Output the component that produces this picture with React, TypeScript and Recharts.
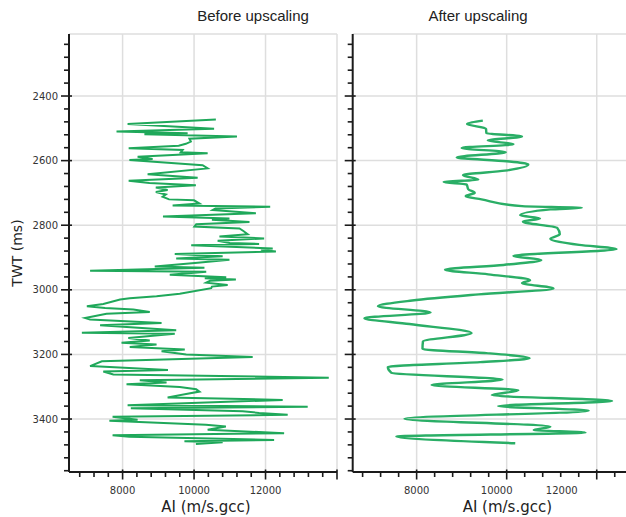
import React from 'react';
import { LineChart, Line, XAxis, YAxis, CartesianGrid } from 'recharts';

// ---------- data ----------
const beforeTime = [
  2473, 2487, 2501, 2510, 2515, 2518, 2525, 2532, 2541, 2548, 2554, 2562, 2567, 2574, 2577, 2588, 2595, 2598,
  2614, 2624, 2642, 2653, 2662, 2669, 2676, 2683, 2691, 2697, 2705, 2712, 2720, 2723, 2733, 2739, 2743, 2748,
  2753, 2763, 2773, 2779, 2783, 2790, 2797, 2804, 2810, 2818, 2828, 2835, 2841, 2848, 2855, 2858, 2862, 2872,
  2876, 2881, 2889, 2896, 2903, 2907, 2916, 2928, 2932, 2941, 2944, 2953, 2961, 2964, 2968, 2972, 2978, 2985,
  2990, 2995, 3012, 3020, 3026, 3030, 3044, 3051, 3056, 3061, 3069, 3074, 3087, 3092, 3103, 3110, 3125, 3133,
  3136, 3149, 3157, 3164, 3169, 3177, 3185, 3190, 3200, 3208, 3221, 3236, 3248, 3253, 3262, 3272, 3280, 3287,
  3292, 3301, 3308, 3315, 3333, 3341, 3357, 3362, 3367, 3376, 3381, 3387, 3393, 3402, 3405, 3418, 3423, 3433,
  3444, 3450, 3455, 3465, 3469, 3472, 3477,
];
const beforeAI = [
  10610, 8140, 10560, 7830, 9820, 8610, 11200, 9870, 9910, 9770, 9570, 8170, 9680, 9630, 10380, 8420, 8840, 8190,
  10240, 10380, 8700, 10100, 8170, 8750, 10050, 8930, 9260, 8930, 9210, 9120, 9300, 10000, 10150, 9400, 12130, 10600,
  10520, 11730, 9130, 10990, 10500, 11550, 10060, 10010, 11270, 11380, 11500, 10710, 11960, 10660, 11000, 11820, 9920, 12200,
  11870, 12290, 9460, 10800, 9500, 10990, 10100, 8900, 10290, 7090, 10340, 9320, 10900, 10300, 11170, 10450, 10340, 10940,
  10500, 10480, 9600, 8950, 8200, 7930, 7460, 7000, 7510, 8300, 8760, 7550, 6950, 7090, 9090, 7370, 9500, 6860,
  9460, 8160, 8760, 7970, 8950, 8200, 9740, 9090, 9780, 11640, 7420, 7090, 9270, 7460, 7740, 13770, 8480, 9230,
  8110, 9600, 10060, 10150, 9260, 12480, 8140, 13180, 8230, 11360, 11820, 12620, 7720, 8420, 7630, 10330, 10890, 10380,
  12520, 7720, 8190, 12240, 9730, 10800, 10050,
];

const afterTime = [
  2476, 2487, 2501, 2515, 2525, 2538, 2549, 2561, 2574, 2590, 2602, 2612, 2631, 2645, 2659, 2666, 2674, 2689,
  2700, 2710, 2720, 2741, 2746, 2751, 2769, 2779, 2789, 2808, 2828, 2842, 2861, 2874, 2895, 2908, 2923, 2938,
  2952, 2970, 2979, 2996, 3014, 3033, 3051, 3070, 3088, 3106, 3134, 3160, 3183, 3196, 3212, 3224, 3239, 3257,
  3278, 3295, 3311, 3326, 3344, 3360, 3374, 3399, 3424, 3434, 3442, 3454, 3475,
];
const afterAI = [
  9470, 9120, 9540, 9550, 10340, 9580, 10150, 9000, 9980, 8890, 10000, 10480, 9960, 9030, 9370, 8600, 9110, 9150,
  9290, 9090, 9440, 10340, 11670, 10970, 10300, 10740, 10360, 11120, 11180, 10970, 11610, 12440, 10150, 10770, 9930, 8630,
  9590, 10520, 10340, 11040, 9380, 7900, 7140, 8310, 6840, 7840, 9220, 8140, 8130, 9550, 10510, 9410, 7360, 7440,
  9910, 8330, 10260, 9670, 12340, 9810, 11820, 7730, 10970, 10600, 11750, 7550, 10190,
];

const timeTicks = [
  2240, 2280, 2320, 2360, 2400, 2440, 2480, 2520, 2560, 2600, 2640, 2680, 2720, 2760, 2800, 2840, 2880,
  2920, 2960, 3000, 3040, 3080, 3120, 3160, 3200, 3240, 3280, 3320, 3360, 3400, 3440, 3480, 3520, 3560,
];
const timeLabels = [2400, 2600, 2800, 3000, 3200, 3400];
const beforeAITicks = [
  6800, 7200, 7600, 8000, 8400, 8800, 9200, 9600, 10000, 10400, 10800, 11200, 11600, 12000, 12400, 12800,
  13200, 13600, 14000,
];
const afterAITicks = [
  6800, 7200, 7600, 8000, 8400, 8800, 9200, 9600, 10000, 10400, 10800, 11200, 11600, 12000, 12400,
];
const aiLabels = [8000, 10000, 12000];
const timeGrid = [2208, 2400, 2600, 2800, 3000, 3200, 3400];
const beforeAIGrid = [8000, 10000, 12000, 14000];
const afterAIGrid = [8000, 10000, 12000];

const timeDomain: [number, number] = [2208, 3564];
const beforeDomain: [number, number] = [6500, 14000];
const afterDomain: [number, number] = [6580, 12650];

const beforeData = beforeTime.map((t, i) => ({ t, v: beforeAI[i] }));
const afterData = afterTime.map((t, i) => ({ t, v: afterAI[i] }));

// ---------- styles ----------
const AXIS = '#1b1b1b';
const GRID = '#dedede';
const LABEL = '#333';
const TICK_FONT = "'DejaVu Sans', Verdana, sans-serif";
const GREEN = '#1fa85a';

const YTick = (props: any) => {
  const { x, y, payload, showLabel } = props;
  const major = payload.value % 200 === 0;
  return (
    <g>
      <line x1={x - (major ? 8 : 5)} x2={x + (major ? 3 : 0)} y1={y} y2={y} stroke={AXIS} strokeWidth={1.6} />
      {showLabel && timeLabels.includes(payload.value) && (
        <text x={x - 11} y={y + 3.6} textAnchor="end" fontSize={10} fill={LABEL} fontFamily={TICK_FONT}>
          {payload.value}
        </text>
      )}
    </g>
  );
};

const XTick = (props: any) => {
  const { x, y, payload, shift } = props;
  const major = payload.value % 2000 === 0;
  const dx = shift && shift[payload.value] ? shift[payload.value] : 0;
  return (
    <g>
      <line x1={x} x2={x} y1={y - (major ? 2.5 : 0)} y2={y + (major ? 7.5 : 5)} stroke={AXIS} strokeWidth={1.6} />
      {aiLabels.includes(payload.value) && (
        <text x={x + dx} y={y + 22} textAnchor="middle" fontSize={10} fill={LABEL} fontFamily={TICK_FONT}>
          {payload.value}
        </text>
      )}
    </g>
  );
};

const xTitle = (dx: number) => (p: any) => {
  const vb = p.viewBox;
  return (
    <text
      x={vb.x + vb.width / 2 + dx}
      y={vb.y + 40}
      textAnchor="middle"
      fontSize={15}
      fill="#222"
      fontFamily={TICK_FONT}
    >
      AI (m/s.gcc)
    </text>
  );
};

const yTitle = (p: any) => {
  const vb = p.viewBox;
  return (
    <text
      transform={`translate(${vb.x + 17}, ${vb.y + vb.height / 2}) rotate(-90)`}
      dy={5}
      textAnchor="middle"
      fontSize={14}
      fill="#222"
      fontFamily={TICK_FONT}
    >
      TWT (ms)
    </text>
  );
};

const titleStyle: React.CSSProperties = {
  position: 'absolute',
  top: 7,
  width: 200,
  textAlign: 'center',
  fontFamily: "'Liberation Sans', Arial, sans-serif",
  fontSize: 15,
  lineHeight: '17px',
  color: '#222',
};

const afterLabelShift: Record<number, number> = { 10000: -10, 12000: -35 };

export default function App() {
  return (
    <div style={{ position: 'absolute', left: 0, top: 0, width: 626, height: 517, background: '#fff', overflow: 'hidden' }}>
      <div style={{ ...titleStyle, left: 153 }}>Before upscaling</div>
      <div style={{ ...titleStyle, left: 378 }}>After upscaling</div>

      <div style={{ position: 'absolute', left: 0, top: 0 }}>
        <LineChart
          width={345}
          height={517}
          data={beforeData}
          layout="vertical"
          margin={{ top: 34, right: 8, bottom: 5, left: 0 }}
        >
          <CartesianGrid
            stroke={GRID}
            strokeWidth={1.5}
            horizontalValues={timeGrid}
            verticalValues={beforeAIGrid}
          />
          <XAxis
            type="number"
            dataKey="v"
            domain={beforeDomain}
            allowDataOverflow
            ticks={beforeAITicks}
            interval={0}
            height={40}
            tickSize={0}
            tickMargin={0}
            tickLine={false}
            axisLine={{ stroke: AXIS, strokeWidth: 2 }}
            tick={<XTick />}
            label={{ content: xTitle(3) }}
          />
          <YAxis
            type="number"
            dataKey="t"
            domain={timeDomain}
            allowDataOverflow
            ticks={timeTicks}
            interval={0}
            width={69}
            tickSize={0}
            tickMargin={0}
            tickLine={false}
            axisLine={{ stroke: AXIS, strokeWidth: 2 }}
            tick={<YTick showLabel />}
            label={{ content: yTitle }}
          />
          <Line
            dataKey="v"
            type="linear"
            stroke={GREEN}
            strokeWidth={2}
            dot={false}
            isAnimationActive={false}
          />
        </LineChart>
      </div>

      <div style={{ position: 'absolute', left: 340, top: 0 }}>
        <LineChart
          width={286}
          height={517}
          data={afterData}
          layout="vertical"
          margin={{ top: 34, right: 0, bottom: 5, left: 0 }}
        >
          <CartesianGrid
            stroke={GRID}
            strokeWidth={1.5}
            horizontalValues={timeGrid}
            verticalValues={afterAIGrid}
          />
          <XAxis
            type="number"
            dataKey="v"
            domain={afterDomain}
            allowDataOverflow
            ticks={afterAITicks}
            interval={0}
            height={40}
            tickSize={0}
            tickMargin={0}
            tickLine={false}
            axisLine={{ stroke: AXIS, strokeWidth: 2 }}
            tick={<XTick shift={afterLabelShift} />}
            label={{ content: xTitle(18) }}
          />
          <YAxis
            type="number"
            dataKey="t"
            domain={timeDomain}
            allowDataOverflow
            ticks={timeTicks}
            interval={0}
            width={12.7}
            tickSize={0}
            tickMargin={0}
            tickLine={false}
            axisLine={{ stroke: AXIS, strokeWidth: 2 }}
            tick={<YTick showLabel={false} />}
          />
          <Line
            dataKey="v"
            type="monotone"
            stroke="#2aae66"
            strokeWidth={2.4}
            dot={false}
            isAnimationActive={false}
          />
        </LineChart>
      </div>
    </div>
  );
}
